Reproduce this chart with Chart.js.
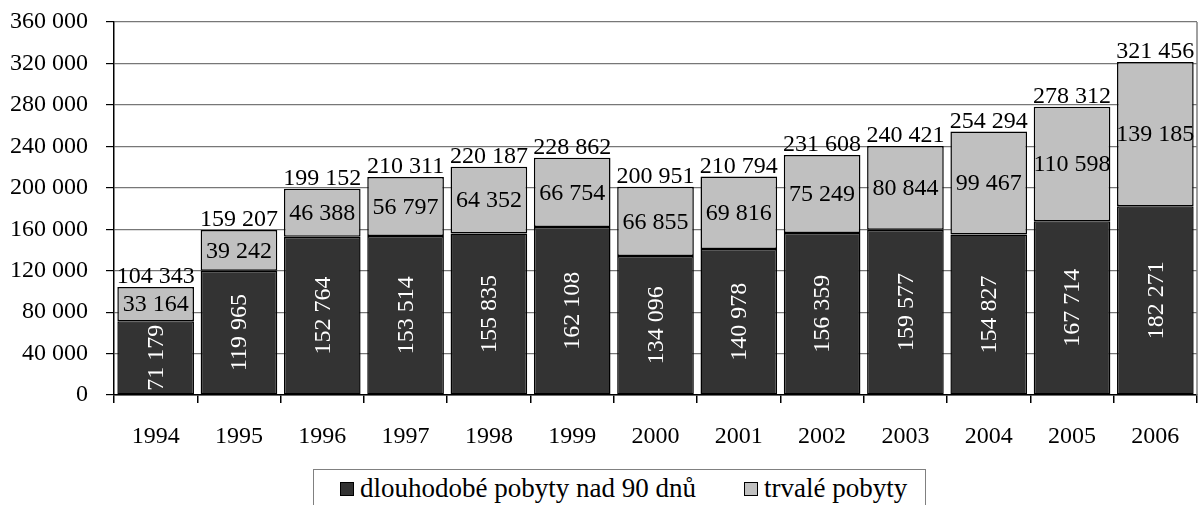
<!DOCTYPE html>
<html>
<head>
<meta charset="utf-8">
<script src="https://cdn.jsdelivr.net/npm/chart.js@4"></script>
<style>
  body { margin: 0; background: #fff; }
  #wrap { position: relative; width: 1201px; height: 505px; overflow: hidden; }
  #legend {
    position: absolute; left: 313px; top: 469px; width: 613px; height: 50px;
    border: 1px solid #808080; box-sizing: border-box; background: #fff;
    font-family: "Liberation Serif", "Times New Roman", serif; font-size: 27px; color: #000;
    white-space: nowrap;
  }
  #legend .item { position: absolute; top: 3px; line-height: 30px; }
  #legend .sw { display: inline-block; width: 12px; height: 12px; border: 1.5px solid #000; margin-right: 6px; vertical-align: 1px; }
</style>
</head>
<body>
<div id="wrap">
  <canvas id="chart" width="1201" height="505"></canvas>
  <div id="legend">
    <span class="item" style="left:26px"><span class="sw" style="background:#333333"></span>dlouhodobé pobyty nad 90 dnů</span>
    <span class="item" style="left:430px"><span class="sw" style="background:#c0c0c0"></span>trvalé pobyty</span>
  </div>
</div>
<script>
// Foreigners with residence in the Czech Republic, 1994–2006
const years = ['1994','1995','1996','1997','1998','1999','2000','2001','2002','2003','2004','2005','2006'];
const longStay  = [71179, 119965, 152764, 153514, 155835, 162108, 134096, 140978, 156359, 159577, 154827, 167714, 182271];
const permanent = [33164, 39242, 46388, 56797, 64352, 66754, 66855, 69816, 75249, 80844, 99467, 110598, 139185];
const yTicks = [0, 40000, 80000, 120000, 160000, 200000, 240000, 280000, 320000, 360000];

const FONT = '"Liberation Serif", "Times New Roman", serif';
const fmt = v => String(v).replace(/\B(?=(\d{3})+(?!\d))/g, ' ');

const valueLabels = {
  id: 'valueLabels',
  afterDatasetsDraw(chart) {
    const ctx = chart.ctx;
    const dark = chart.getDatasetMeta(0).data;
    const light = chart.getDatasetMeta(1).data;
    ctx.save();
    ctx.font = '24px ' + FONT;
    years.forEach((_, i) => {
      const d = dark[i], l = light[i];
      const w = d.width;
      // rotated white value inside the dark segment, clipped to it
      ctx.save();
      ctx.beginPath();
      ctx.rect(d.x - w / 2, d.y + 1, w, d.base - d.y - 1);
      ctx.clip();
      ctx.translate(d.x, (d.y + d.base) / 2);
      ctx.rotate(-Math.PI / 2);
      ctx.fillStyle = '#ffffff';
      ctx.textAlign = 'center';
      ctx.textBaseline = 'middle';
      ctx.fillText(fmt(longStay[i]), 0, 1);
      ctx.restore();
      // value of the light segment
      ctx.fillStyle = '#000';
      ctx.textAlign = 'center';
      ctx.textBaseline = 'middle';
      ctx.fillText(fmt(permanent[i]), l.x, (l.y + l.base) / 2 + 1);
      // total above the bar
      ctx.textBaseline = 'alphabetic';
      ctx.fillText(fmt(longStay[i] + permanent[i]), l.x, l.y - 4);
    });
    ctx.restore();
  },
  afterDraw(chart) {
    const { ctx, chartArea: a } = chart;
    ctx.save();
    ctx.strokeStyle = '#808080';
    ctx.lineWidth = 1.5;
    ctx.beginPath();
    ctx.moveTo(a.right, a.top);
    ctx.lineTo(a.right, a.bottom);
    ctx.stroke();
    ctx.restore();
  }
};

new Chart(document.getElementById('chart'), {
  type: 'bar',
  data: {
    labels: years,
    datasets: [
      { label: 'dlouhodobé pobyty nad 90 dnů', data: longStay, backgroundColor: '#333333',
        borderColor: '#000', borderWidth: 1.5, borderSkipped: false,
        barPercentage: 0.92, categoryPercentage: 1 },
      { label: 'trvalé pobyty', data: permanent, backgroundColor: '#c0c0c0',
        borderColor: '#000', borderWidth: 1.5, borderSkipped: false,
        barPercentage: 0.92, categoryPercentage: 1 }
    ]
  },
  options: {
    responsive: false,
    animation: false,
    layout: { padding: { left: 0, right: 4, top: 22, bottom: 0 } },
    plugins: { legend: { display: false }, tooltip: { enabled: false } },
    scales: {
      x: {
        stacked: true,
        grid: { offset: true, drawOnChartArea: false, drawTicks: true, tickLength: 8, color: '#000', lineWidth: 1.5 },
        border: { color: '#000', width: 1.5 },
        ticks: { color: '#000', font: { family: FONT, size: 24 }, padding: 19, maxRotation: 0 },
        afterFit(scale) { scale.height = 110; scale.paddingLeft = 0; scale.paddingRight = 0; }
      },
      y: {
        stacked: true,
        min: 0, max: 360000,
        afterBuildTicks(scale) { scale.ticks = yTicks.map(v => ({ value: v })); },
        grid: { color: '#777777', lineWidth: 1.2, tickColor: '#000', tickLength: 8 },
        border: { color: '#000', width: 1.5 },
        ticks: { color: '#000', font: { family: FONT, size: 24 }, padding: 18, callback: v => fmt(v) },
        afterFit(scale) { scale.width = 114; scale.paddingTop = 0; scale.paddingBottom = 0; }
      }
    }
  },
  plugins: [valueLabels]
});
</script>
</body>
</html>
